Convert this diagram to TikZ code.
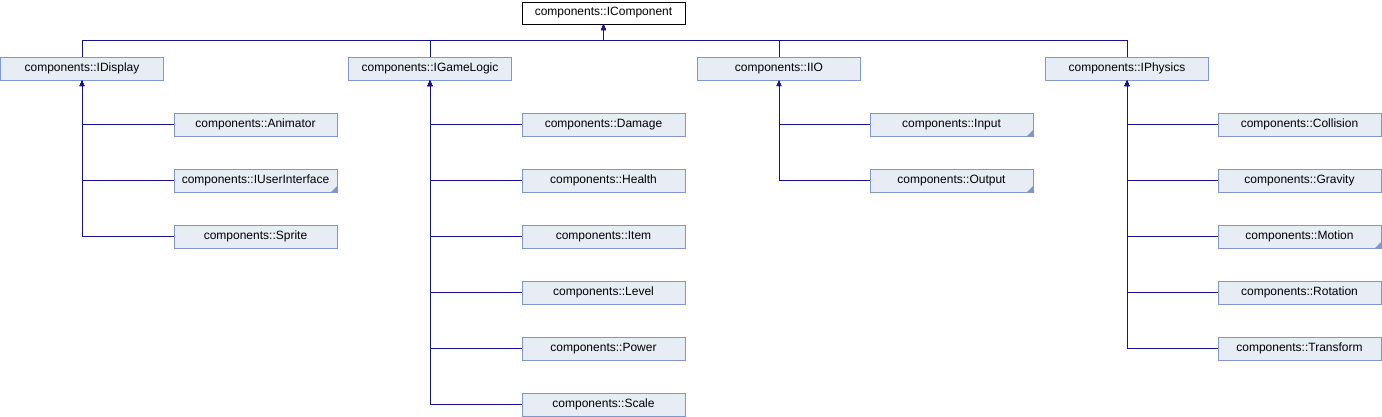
\documentclass[tikz,border=0pt]{standalone}
\usepackage{fontspec}
\setmainfont{Liberation Sans}
\usetikzlibrary{arrows.meta}

\definecolor{boxfill}{HTML}{E8ECF4}
\definecolor{boxline}{HTML}{7F98CC}
\definecolor{linkcol}{HTML}{14148C}

\tikzset{
  cls/.style={rectangle, draw=boxline, fill=boxfill, minimum width=163pt, minimum height=23pt, inner sep=0pt},
  root/.style={rectangle, draw=black, fill=white, minimum width=163pt, minimum height=22pt, inner sep=0pt},
  more/.style={path picture={\fill[boxline] (path picture bounding box.south east) -- ++(-6pt,0pt) -- ++(6pt,6pt) -- cycle;}},
  inh/.style={draw=linkcol, line width=0.9pt, -{Triangle[length=6pt,width=5pt]}}
}

\begin{document}
\begin{tikzpicture}[x=1pt, y=-1pt, every node/.style={font=\fontsize{12}{14}\selectfont}]
			\useasboundingbox (0,0) rectangle (1382,416);

			% Nodes
			\node[root] (icomp) at (603.5,13) {components::IComponent};

			\node[cls] (idisp) at (82,68.5) {components::IDisplay};
			\node[cls] (ilogic) at (430,68.5) {components::IGameLogic};
			\node[cls] (iio) at (779,68.5) {components::IIO};
			\node[cls] (iphys) at (1127,68.5) {components::IPhysics};

			\node[cls] (anim) at (255.5,124.5) {components::Animator};
			\node[cls, more] (iui) at (255.5,180.5) {components::IUserInterface};
			\node[cls] (sprite) at (255.5,236.5) {components::Sprite};

			\node[cls] (damage) at (603.5,124.5) {components::Damage};
			\node[cls] (health) at (603.5,180.5) {components::Health};
			\node[cls] (item) at (603.5,236.5) {components::Item};
			\node[cls] (level) at (603.5,292.5) {components::Level};
			\node[cls] (power) at (603.5,348.5) {components::Power};
			\node[cls] (scale) at (603.5,404.5) {components::Scale};

			\node[cls, more] (input) at (951.5,124.5) {components::Input};
			\node[cls, more] (output) at (951.5,180.5) {components::Output};

			\node[cls] (collis) at (1299.5,124.5) {components::Collision};
			\node[cls] (grav) at (1299.5,180.5) {components::Gravity};
			\node[cls, more] (motion) at (1299.5,236.5) {components::Motion};
			\node[cls] (rot) at (1299.5,292.5) {components::Rotation};
			\node[cls] (trans) at (1299.5,348.5) {components::Transform};

			% Links
			\foreach \n in {idisp, ilogic, iio, iphys}
				\draw[inh] (\n.north) -- ++(0,-16) -| (icomp.south);

			\foreach \n in {anim, iui, sprite}
				\draw[inh] (\n.west) -| (idisp.south);
			\foreach \n in {damage, health, item, level, power, scale}
				\draw[inh] (\n.west) -| (ilogic.south);
			\foreach \n in {input, output}
				\draw[inh] (\n.west) -| (iio.south);
			\foreach \n in {collis, grav, motion, rot, trans}
				\draw[inh] (\n.west) -| (iphys.south);
		\end{tikzpicture}
\end{document}
